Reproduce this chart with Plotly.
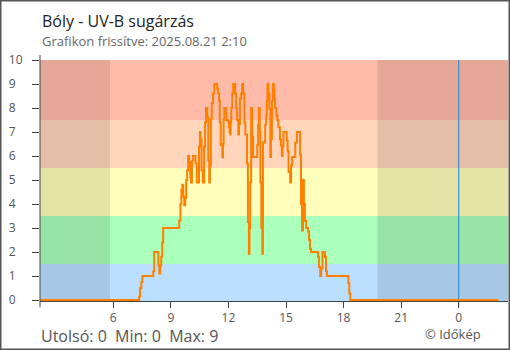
import plotly.graph_objects as go

# UV-B readings, Bóly, 2025-08-20 02:10 .. 2025-08-21 02:04 (step data)
day1_hhmm = [
    "02:10", "07:21", "07:24", "07:28", "07:31", "08:05", "08:08", "08:21", "08:24", "08:27",
    "08:30", "08:33", "08:36", "09:26", "09:30", "09:33", "09:36", "09:39", "09:42", "09:45",
    "09:48", "09:51", "09:54", "09:57", "09:59", "10:01", "10:03", "10:06", "10:09", "10:17",
    "10:21", "10:28", "10:31", "10:33", "10:36", "10:40", "10:44", "10:47", "10:50", "10:54",
    "10:57", "11:00", "11:02", "11:05", "11:08", "11:12", "11:16", "11:25", "11:28", "11:31",
    "11:33", "11:36", "11:41", "11:43", "11:45", "11:47", "11:52", "11:54", "11:58", "12:01",
    "12:04", "12:06", "12:07", "12:09", "12:12", "12:15", "12:21", "12:24", "12:27", "12:31",
    "12:33", "12:36", "12:40", "12:43", "12:46", "12:50", "12:53", "12:58", "13:01", "13:04",
    "13:06", "13:08", "13:11", "13:14", "13:17", "13:30", "13:33", "13:35", "13:38", "13:40",
    "13:43", "13:46", "13:48", "13:52", "13:55", "13:58", "14:00", "14:02", "14:05", "14:08",
    "14:11", "14:13", "14:16", "14:19", "14:22", "14:24", "14:26", "14:30", "14:33", "14:36",
    "14:41", "14:44", "14:47", "14:49", "14:52", "15:02", "15:05", "15:08", "15:13", "15:16",
    "15:19", "15:29", "15:34", "15:44", "15:47", "15:50", "15:53", "15:56", "15:59", "16:03",
    "16:09", "16:12", "16:15", "16:18", "16:40", "16:43", "16:47", "16:50", "16:54", "17:02",
    "17:05", "17:08", "18:15", "18:18", "18:21",
]
day1_uvb = [
    0.0, 0.15, 0.5, 0.75, 1.0, 1.2, 2.0, 1.45, 1.1, 1.45,
    1.8, 2.4, 3.0, 3.3, 4.0, 4.6, 4.8, 4.3, 3.95, 4.25,
    5.0, 5.4, 6.0, 5.55, 5.75, 5.1, 4.9, 5.8, 6.0, 5.7,
    4.9, 6.4, 7.0, 6.7, 5.4, 4.9, 6.4, 7.4, 8.0, 7.6,
    5.8, 4.9, 5.6, 7.55, 8.2, 8.6, 9.0, 8.8, 8.6, 8.3,
    7.4, 6.45, 5.95, 6.5, 7.5, 8.0, 7.8, 7.5, 7.45, 7.2,
    7.0, 6.9, 7.4, 8.0, 8.6, 9.0, 8.6, 8.0, 7.5, 6.9,
    7.3, 8.4, 8.6, 9.0, 8.6, 7.4, 6.9, 5.7, 3.25, 1.93,
    3.0, 4.9, 8.0, 6.8, 5.96, 6.45, 7.3, 8.0, 7.0, 4.9,
    3.0, 1.93, 6.55, 6.6, 7.3, 7.7, 8.3, 9.0, 8.6, 7.97,
    5.96, 6.7, 8.3, 9.0, 8.75, 8.4, 8.0, 7.7, 7.5, 7.2,
    6.7, 6.45, 6.0, 6.4, 7.0, 6.65, 6.2, 5.33, 4.9, 5.6,
    5.96, 6.55, 7.0, 6.05, 4.0, 2.9, 5.0, 4.0, 3.3, 3.0,
    2.85, 2.5, 2.14, 2.0, 1.8, 1.38, 1.0, 1.3, 2.0, 1.8,
    1.2, 1.0, 0.7, 0.27, 0.0,
]
day2_hhmm = ["02:04"]
day2_uvb = [0.0]

times = ["2025-08-20 " + t for t in day1_hhmm] + ["2025-08-21 " + t for t in day2_hhmm]
uvb = day1_uvb + day2_uvb

# UV-B intensity bands (edges) and their fills
band_edges = [0, 1.5, 3.5, 5.5, 7.5, 10]
band_colors = ["#BBE0FF", "#AAFFBB", "#FFFFBB", "#FFD5BB", "#FFBBAA"]

x_start = "2025-08-20 02:11"
x_end = "2025-08-21 02:34"
sunrise = "2025-08-20 05:50"
sunset = "2025-08-20 19:46"
midnight = "2025-08-21 00:00"

tick_times = ["2025-08-20 06:00", "2025-08-20 09:00", "2025-08-20 12:00", "2025-08-20 15:00",
              "2025-08-20 18:00", "2025-08-20 21:00", "2025-08-21 00:00"]
tick_text = ["6", "9", "12", "15", "18", "21", "0"]
y_ticks = list(range(0, 11))
y_tick_text = [f"{v}\u2007" if v < 10 else str(v) for v in y_ticks]

title = "Bóly - UV-B sugárzás"
subtitle = "Grafikon frissítve: 2025.08.21 2:10"
last_val, min_val, max_val = 0, 0, 9
credit = "© Időkép"

FONT = "Open Sans"
AXIS = "#444444"

# plot box in pixels: 468 wide, 241 tall (one pixel below zero so the
# zero-level trace is not cut by the plot edge)
PW, PH = 468, 241
Y_MIN = -10 / 240

fig = go.Figure()
fig.add_trace(go.Scatter(
    x=times, y=uvb, mode="lines", line=dict(color="#FF8000", width=2, shape="hv"),
    hoverinfo="skip", showlegend=False,
))

shapes = []
band_lows = [Y_MIN] + band_edges[1:-1]
for lo, hi, col in zip(band_lows, band_edges[1:], band_colors):
    shapes.append(dict(type="rect", xref="paper", yref="y", x0=0, x1=1, y0=lo, y1=hi,
                       fillcolor=col, line_width=0, layer="below"))
# night shading
for a, b in [(x_start, sunrise), (sunset, x_end)]:
    shapes.append(dict(type="rect", xref="x", yref="y", x0=a, x1=b, y0=Y_MIN, y1=10,
                       fillcolor="rgba(0,0,0,0.105)", line_width=0, layer="below"))
# midnight marker
shapes.append(dict(type="line", xref="x", yref="paper", x0=midnight, x1=midnight,
                   y0=-6 / PH, y1=1, line=dict(color="#2196F3", width=1), layer="below"))
# extended y axis line
shapes.append(dict(type="line", xref="paper", yref="paper", x0=0, x1=0,
                   y0=-6 / PH, y1=246 / PH, line=dict(color=AXIS, width=1), layer="above"))
# outer frame
shapes.append(dict(type="rect", xref="paper", yref="paper",
                   x0=-40 / PW, x1=470 / PW, y0=-49 / PH, y1=301 / PH,
                   line=dict(color="#555555", width=3), fillcolor="rgba(0,0,0,0)", layer="above"))

annotations = [
    dict(text=title, x=0, y=280 / PH, xref="paper", yref="paper", xanchor="left",
         yanchor="middle", showarrow=False, font=dict(family=FONT, size=16, color="#222222")),
    dict(text=subtitle, x=0, y=260.5 / PH, xref="paper", yref="paper", xanchor="left",
         yanchor="middle", showarrow=False, font=dict(family=FONT, size=13, color="#666666")),
    dict(text=f"Utolsó: {last_val}\u00a0\u00a0Min: {min_val}\u00a0\u00a0Max: {max_val}",
         x=0, y=-35 / PH, xref="paper", yref="paper", xanchor="left", yanchor="middle",
         showarrow=False, borderpad=0, font=dict(family=FONT, size=16, color="#555555")),
    dict(text=credit, x=442 / PW, y=-32.5 / PH, xref="paper", yref="paper", xanchor="right",
         yanchor="middle", showarrow=False, borderpad=0,
         font=dict(family=FONT, size=13, color="#555555")),
]

fig.update_layout(
    width=510, height=350,
    margin=dict(l=40, r=2, t=60, b=49),
    paper_bgcolor="white", plot_bgcolor="white",
    font=dict(family=FONT, size=12, color="#555555"),
    shapes=shapes, annotations=annotations, showlegend=False,
    xaxis=dict(type="date", range=[x_start, x_end], tickmode="array", tickvals=tick_times,
               ticktext=tick_text, ticks="outside", ticklen=6, tickcolor=AXIS, showgrid=False,
               zeroline=False, showline=True, linecolor=AXIS, linewidth=1, fixedrange=True,
               layer="below traces", ticklabelstandoff=0,
               tickfont=dict(size=12, color="#555555")),
    xaxis2=dict(type="date", range=[x_start, x_end], overlaying="x", anchor="y", side="bottom",
                tickmode="array", tickvals=tick_times, ticks="inside", ticklen=7, tickcolor=AXIS,
                showticklabels=False, showgrid=False, zeroline=False, showline=False,
                layer="below traces"),
    yaxis=dict(range=[Y_MIN, 10], tickmode="array", tickvals=y_ticks, ticktext=y_tick_text,
               ticks="outside", ticklen=7, tickcolor=AXIS, showgrid=False, zeroline=False,
               showline=False, ticklabelstandoff=7, tickfont=dict(size=12, color="#555555")),
    yaxis2=dict(range=[Y_MIN, 10], overlaying="y", anchor="x", side="left", tickmode="array",
                tickvals=y_ticks, ticks="inside", ticklen=6, tickcolor=AXIS,
                showticklabels=False, showgrid=False, zeroline=False, showline=False),
)

fig.write_html("out.html")
